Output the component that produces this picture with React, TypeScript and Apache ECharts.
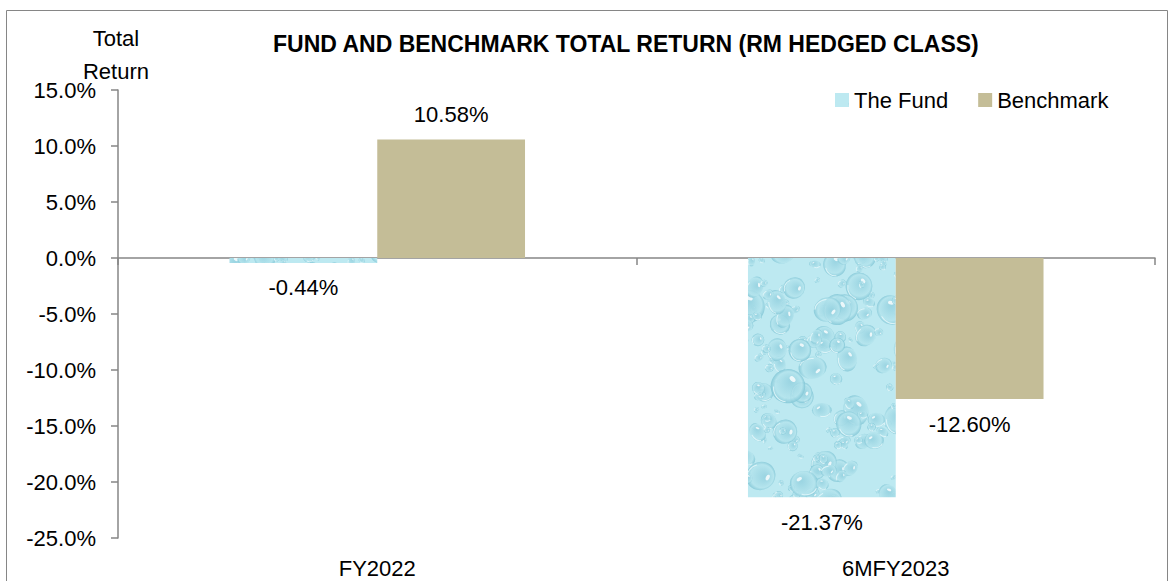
import React, { useEffect, useRef } from "react";
import * as echarts from "echarts";

const categories = ["FY2022", "6MFY2023"];
const fundValues = [-0.44, -21.37];
const benchmarkValues = [10.58, -12.6];
const seriesNames = ["The Fund", "Benchmark"];
const yMin = -25;
const yMax = 15;
const yStep = 5;

const FONT = "'Liberation Sans', Arial, sans-serif";

function makeDropletTexture(): string {
  const w = 200;
  const h = 300;
  const c = document.createElement("canvas");
  c.width = w;
  c.height = h;
  const ctx = c.getContext("2d");
  if (!ctx) return "";
  ctx.fillStyle = "#bde9f1";
  ctx.fillRect(0, 0, w, h);
  let s = 12345;
  const rnd = () => {
    s = (s * 1103515245 + 12345) % 2147483648;
    return s / 2147483648;
  };
  const drops: number[][] = [];
  for (let i = 0; i < 230; i++) {
    const x = rnd() * w;
    const y = rnd() * h;
    const r = 2.5 + rnd() * rnd() * 16;
    const ry = r * (0.65 + rnd() * 0.4);
    const rot = rnd() * Math.PI;
    drops.push([x, y, r, ry, rot]);
  }
  for (const [x0, y0, r, ry, rot] of drops) {
    for (let dx = -1; dx <= 1; dx++) {
      for (let dy = -1; dy <= 1; dy++) {
        const x = x0 + dx * w;
        const y = y0 + dy * h;
        if (x < -r * 1.5 || x > w + r * 1.5 || y < -r * 1.5 || y > h + r * 1.5) continue;
        ctx.save();
        ctx.translate(x, y);
        ctx.rotate(rot);
        const dg = ctx.createRadialGradient(-r * 0.25, -ry * 0.25, r * 0.1, 0, 0, r);
        dg.addColorStop(0, "rgba(150,210,224,0.85)");
        dg.addColorStop(0.75, "rgba(180,228,237,0.85)");
        dg.addColorStop(1, "rgba(130,198,214,0.85)");
        ctx.fillStyle = dg;
        ctx.beginPath();
        ctx.ellipse(0, 0, r, ry, 0, 0, Math.PI * 2);
        ctx.fill();
        ctx.strokeStyle = "rgba(225,246,250,0.9)";
        ctx.lineWidth = 1;
        ctx.beginPath();
        ctx.ellipse(r * 0.1, ry * 0.1, r * 0.8, ry * 0.75, 0, 0.3, 1.9);
        ctx.stroke();
        ctx.fillStyle = "rgba(255,255,255,0.8)";
        ctx.beginPath();
        ctx.ellipse(-r * 0.35, -ry * 0.35, r * 0.2, ry * 0.13, -0.6, 0, Math.PI * 2);
        ctx.fill();
        ctx.restore();
      }
    }
  }
  return c.toDataURL("image/png");
}

export default function App() {
  const ref = useRef<HTMLDivElement>(null);

  useEffect(() => {
    document.body.style.margin = "0";
    if (!ref.current) return;
    const chart = echarts.init(ref.current, null, { renderer: "svg" });
    const tex = makeDropletTexture();
    const fundColor: any = tex ? { image: tex, repeat: "repeat" } : "#b7e5ee";

    const mkData = (vals: number[]) =>
      vals.map((v) => ({
        value: v,
        label: { position: v < 0 ? "bottom" : "top" },
      }));

    const labelStyle = {
      show: true,
      distance: 14,
      fontFamily: FONT,
      fontSize: 22,
      color: "#000",
      formatter: (p: any) => p.value.toFixed(2) + "%",
    };

    chart.setOption({
      animation: false,
      backgroundColor: "#fff",
      textStyle: { fontFamily: FONT },
      title: {
        text: "FUND AND BENCHMARK TOTAL RETURN (RM HEDGED CLASS)",
        left: 268,
        top: 27,
        textStyle: { fontFamily: FONT, fontSize: 23, fontWeight: "bold", color: "#000" },
      },
      legend: {
        left: 830,
        top: 84,
        itemWidth: 14,
        itemHeight: 14,
        itemGap: 30,
        icon: "rect",
        textStyle: { fontFamily: FONT, fontSize: 22, color: "#000" },
        data: seriesNames,
      },
      graphic: [
        {
          type: "rect",
          shape: { x: 6.5, y: 10.5, width: 1161, height: 620 },
          style: { fill: "none", stroke: "#868686", lineWidth: 1 },
          silent: true,
        },
      ],
      grid: { left: 118, right: 15, top: 90, bottom: 43 },
      xAxis: [
        {
          type: "category",
          data: categories,
          position: "bottom",
          axisLine: { show: false, onZero: false },
          axisTick: { show: false },
          axisLabel: { margin: 19, fontFamily: FONT, fontSize: 22, color: "#000" },
          splitLine: { show: false },
        },
        {
          type: "category",
          data: categories,
          position: "top",
          axisLine: { show: true, onZero: true, lineStyle: { color: "#868686", width: 1.5 } },
          axisTick: { show: true, inside: true, length: 7, lineStyle: { color: "#868686", width: 1.5 } },
          axisLabel: { show: false },
          splitLine: { show: false },
        },
      ],
      yAxis: {
        type: "value",
        min: yMin,
        max: yMax,
        interval: yStep,
        name: "Total\nReturn",
        nameLocation: "end",
        nameGap: 2,
        nameMoveOverlap: false,
        nameTextStyle: { fontFamily: FONT, fontSize: 22, color: "#000", align: "center", lineHeight: 33, padding: [0, 4, 0, 0] },
        axisLine: { show: true, lineStyle: { color: "#868686", width: 1.5 } },
        axisTick: { show: true, length: 7, lineStyle: { color: "#868686", width: 1.5 } },
        splitLine: { show: false },
        axisLabel: {
          margin: 22,
          fontFamily: FONT,
          fontSize: 22,
          color: "#000",
          formatter: (v: number) => v.toFixed(1) + "%",
        },
      },
      series: [
        {
          name: seriesNames[0],
          type: "bar",
          xAxisIndex: 0,
          data: mkData(fundValues),
          barGap: "0%",
          barCategoryGap: "43%",
          itemStyle: { color: fundColor },
          label: labelStyle,
        },
        {
          name: seriesNames[1],
          type: "bar",
          xAxisIndex: 0,
          data: mkData(benchmarkValues),
          barGap: "0%",
          barCategoryGap: "43%",
          itemStyle: { color: "#c4bd97" },
          label: labelStyle,
        },
      ],
    });

    return () => chart.dispose();
  }, []);

  return (
    <div
      ref={ref}
      style={{ position: "absolute", left: 0, top: 0, width: 1170, height: 581 }}
    />
  );
}
